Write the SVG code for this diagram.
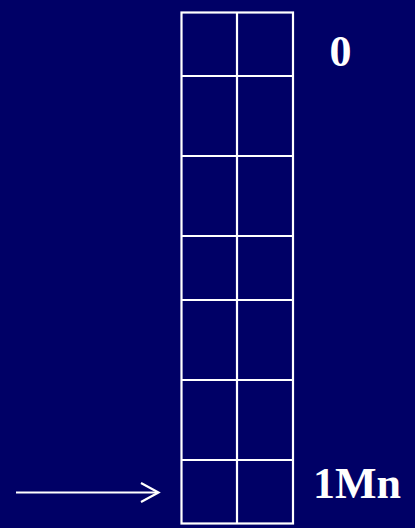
<svg xmlns="http://www.w3.org/2000/svg" width="415" height="528" viewBox="0 0 415 528">
<style>
.g{stroke:#fff;stroke-width:2.2;fill:none}
.t{fill:#fff;font-family:"Liberation Serif",serif;font-weight:bold;font-size:44px}
</style>
<rect width="415" height="528" fill="#000066"/>
<g id="memory">
<rect class="g" x="181.5" y="12.5" width="111.5" height="511"/>
<line class="g" x1="237" y1="12.5" x2="237" y2="523.5"/>
<line class="g" x1="181.5" y1="76" x2="293" y2="76"/>
<line class="g" x1="181.5" y1="156" x2="293" y2="156"/>
<line class="g" x1="181.5" y1="236" x2="293" y2="236"/>
<line class="g" x1="181.5" y1="300" x2="293" y2="300"/>
<line class="g" x1="181.5" y1="380" x2="293" y2="380"/>
<line class="g" x1="181.5" y1="460" x2="293" y2="460"/>
</g>
<g id="label0"><text class="t" x="340.5" y="66" text-anchor="middle">0</text></g>
<g id="label1Mn"><text class="t" x="313" y="498">1Mn</text></g>
<g id="connectors">
<line class="g" x1="16" y1="492.5" x2="158" y2="492.5"/>
<polyline class="g" points="141,483 158.5,492.5 141,502"/>
</g>
</svg>
